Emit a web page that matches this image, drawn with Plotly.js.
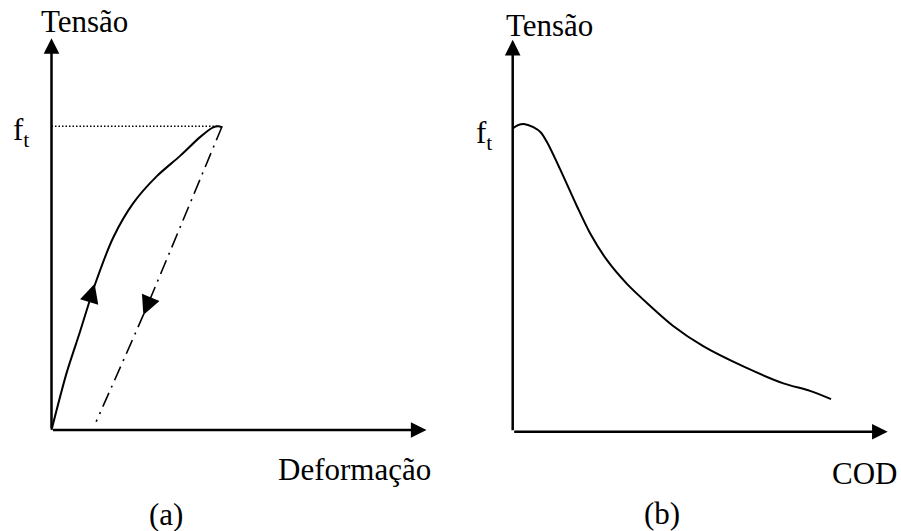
<!DOCTYPE html>
<html>
<head>
<meta charset="utf-8">
<script src="https://cdn.plot.ly/plotly-3.0.1.min.js"></script>
<style>html,body{margin:0;padding:0;background:#fff}#chart{width:901px;height:531px}</style>
</head>
<body>
<div id="chart"></div>
<script>
// ---- data (arbitrary units) ----
var ft = 8.1;
// (a) loading curve: Tensão vs Deformação
var loadX = [0, 0.405, 0.76, 1.16, 1.65, 2.18, 2.81, 3.43, 3.96, 4.31, 4.45, 4.55];
var loadY = [0, 1.53, 2.62, 3.88, 5.14, 6.05, 6.77, 7.31, 7.81, 8.07, 8.1, 8.07];
// (a) unloading curve (dash-dot)
var unloadX = [4.55, 2.45, 1.19];
var unloadY = [8.1, 3.07, 0.22];
// (a) ft reference level
var refX = [0, 4.45];
var refY = [ft, ft];
// (b) softening curve: Tensão vs COD
var codX = [0, 0.15, 0.33, 0.55, 0.75, 0.91, 1.26, 1.71, 2.06, 2.51, 3.04, 3.66, 4.28, 5.08, 6.15, 7.22, 7.93, 8.49];
var codY = [8.09, 8.18, 8.2, 8.12, 7.98, 7.73, 7.01, 6.02, 5.30, 4.58, 3.95, 3.36, 2.82, 2.28, 1.74, 1.29, 1.09, 0.87];
// axis extents
var axisTipX = 10;
var axisTipY = 10.45;
// labels
var yLabel = 'Tensão';
var xLabelA = 'Deformação';
var xLabelB = 'COD';
var ftLabel = 'f<sub>t</sub>';
var panelA = '(a)';
var panelB = '(b)';
// direction arrows on panel (a): [tailX, tailY, tipX, tipY]
var upArrow = [1.0, 3.4, 1.15, 3.9];
var downArrow = [2.63, 3.5, 2.45, 3.07];

var FAMILY = '"Liberation Serif", "Times New Roman", Times, serif';
var FS = 31;

var traces = [
  {x: refX, y: refY, xaxis: 'x', yaxis: 'y', mode: 'lines', line: {color: '#000', width: 1.3, dash: '1.5px,2px'}, hoverinfo: 'skip'},
  {x: loadX, y: loadY, xaxis: 'x', yaxis: 'y', mode: 'lines', line: {color: '#000', width: 2, shape: 'spline', smoothing: 0.8}, hoverinfo: 'skip'},
  {x: unloadX, y: unloadY, xaxis: 'x', yaxis: 'y', mode: 'lines', line: {color: '#000', width: 1.6, dash: '15px,6px,2px,6px', shape: 'spline', smoothing: 0.5}, hoverinfo: 'skip'},
  {x: codX, y: codY, xaxis: 'x2', yaxis: 'y2', mode: 'lines', line: {color: '#000', width: 2, shape: 'spline', smoothing: 0.8}, hoverinfo: 'skip'}
];

function axArrow(xr, yr, x0, y0, x1, y1, w, s) {
  return {xref: xr, yref: yr, axref: xr, ayref: yr, x: x1, y: y1, ax: x0, ay: y0,
    text: '', showarrow: true, arrowhead: 2, arrowsize: s, arrowwidth: w, arrowcolor: '#000', standoff: 0, startstandoff: 0};
}
function label(xr, yr, x, y, t, xa) {
  return {xref: xr, yref: yr, x: x, y: y, text: t, showarrow: false,
    font: {family: FAMILY, size: FS, color: '#000'}, xanchor: xa || 'center', yanchor: 'middle'};
}

var annotations = [
  axArrow('x', 'y', 0, 0, 0, axisTipY, 2.5, 1.25),
  axArrow('x', 'y', 0, 0, axisTipX, 0, 2.5, 1.25),
  axArrow('x2', 'y2', 0, 0, 0, axisTipY, 2.5, 1.25),
  axArrow('x2', 'y2', 0, 0, axisTipX, 0, 2.5, 1.25),
  axArrow('x', 'y', upArrow[0], upArrow[1], upArrow[2], upArrow[3], 2, 1.9),
  axArrow('x', 'y', downArrow[0], downArrow[1], downArrow[2], downArrow[3], 2, 1.9),
  label('x', 'y', 0.88, 10.89, yLabel),
  label('x2', 'y2', 0.97, 10.83, yLabel),
  label('x', 'y', -0.55, 7.95, ftLabel, 'right'),
  label('x2', 'y2', -0.51, 7.92, ftLabel, 'right'),
  label('x', 'y', 8.09, -1.04, xLabelA),
  label('x2', 'y2', 9.39, -1.11, xLabelB),
  label('x', 'y', 3.04, -2.24, panelA),
  label('x2', 'y2', 3.97, -2.18, panelB)
];

var hidden = {visible: false, showgrid: false, zeroline: false, fixedrange: true};
var layout = {
  width: 901, height: 531,
  margin: {l: 0, r: 0, t: 0, b: 0},
  paper_bgcolor: '#fff', plot_bgcolor: 'rgba(0,0,0,0)',
  showlegend: false,
  font: {family: FAMILY, size: FS, color: '#000'},
  xaxis: Object.assign({domain: [0, 0.5], range: [-1.3733, 10.64]}, hidden),
  yaxis: Object.assign({domain: [0, 1], range: [-2.6933, 11.4667]}, hidden),
  xaxis2: Object.assign({domain: [0.5, 1], range: [-1.6587, 10.3547], anchor: 'y2'}, hidden),
  yaxis2: Object.assign({domain: [0, 1], range: [-2.648, 11.512], anchor: 'x2'}, hidden),
  annotations: annotations
};

Plotly.newPlot('chart', traces, layout, {staticPlot: true, displayModeBar: false});
</script>
</body>
</html>
